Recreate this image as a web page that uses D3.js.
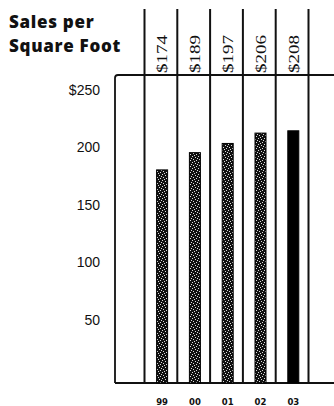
<!DOCTYPE html>
<html>
<head>
<meta charset="utf-8">
<script src="https://cdn.jsdelivr.net/npm/d3@7"></script>
<style>
  html, body { margin: 0; padding: 0; background: #fff; }
  svg { display: block; }
</style>
</head>
<body>
<svg id="chart" width="334" height="406"></svg>
<script>
// Sales per square foot, fiscal years 1999-2003
const years = ["99", "00", "01", "02", "03"];
const sales = [174, 189, 197, 206, 208];
const yTicks = [50, 100, 150, 200, 250];
const valueLabels = ["$174", "$189", "$197", "$206", "$208"];

const svg = d3.select("#chart");
const W = 334;

// plot frame
const frameLeft = 115, frameTop = 75, frameBottom = 383;

const x = d3.scaleBand().domain(years).range([144.5, 308.5]).padding(0);
const y = d3.scaleLinear().domain([0, 250]).range([370, 82.5]);

// speckled fill for the earlier years
const defs = svg.append("defs");
const pat = defs.append("pattern")
  .attr("id", "speckle").attr("patternUnits", "userSpaceOnUse")
  .attr("width", 6).attr("height", 6);
pat.append("rect").attr("width", 6).attr("height", 6).attr("fill", "#111");
const specks = [[0,0],[3,1],[1,3],[4,4],[5,2],[2,5]];
pat.selectAll("rect.s").data(specks).join("rect").attr("class", "s")
  .attr("x", d => d[0]).attr("y", d => d[1])
  .attr("width", 1).attr("height", 1).attr("fill", "#ddd");

// title
const title = svg.append("text")
  .attr("x", 9).attr("y", 28)
  .attr("font-family", "'Open Sans', sans-serif")
  .attr("font-weight", 800).attr("font-size", 17).attr("fill", "#111")
  .attr("letter-spacing", 0.7);
title.append("tspan").attr("x", 9).text("Sales per");
title.append("tspan").attr("x", 9).attr("dy", 23.5).text("Square Foot");

// column separators
const edges = years.map(d => x(d)).concat([x(years[years.length - 1]) + x.bandwidth()]);
svg.append("g").selectAll("line").data(edges).join("line")
  .attr("x1", d => d).attr("x2", d => d)
  .attr("y1", 9).attr("y2", frameBottom)
  .attr("stroke", "#111").attr("stroke-width", 2);

// frame: left edge with rounded corner, top rule and baseline
svg.append("path")
  .attr("d", `M${frameLeft},${frameBottom} L${frameLeft},${frameTop + 3} Q${frameLeft},${frameTop} ${frameLeft + 3},${frameTop} L${W},${frameTop}`)
  .attr("fill", "none").attr("stroke", "#111").attr("stroke-width", 1.8);
svg.append("line")
  .attr("x1", frameLeft).attr("x2", W)
  .attr("y1", frameBottom).attr("y2", frameBottom)
  .attr("stroke", "#111").attr("stroke-width", 2);

// bars rise from the baseline of the frame
const barW = 11, barShift = 1.2;
svg.append("g").selectAll("rect").data(years).join("rect")
  .attr("x", d => x(d) + x.bandwidth() / 2 - barW / 2 + barShift)
  .attr("width", barW)
  .attr("y", (d, i) => y(sales[i]))
  .attr("height", (d, i) => frameBottom - y(sales[i]))
  .attr("fill", (d, i) => i === years.length - 1 ? "#000" : "url(#speckle)")
  .attr("stroke", "#000").attr("stroke-width", 1);

// value labels above the frame, reading upward
svg.append("g").selectAll("text").data(years).join("text")
  .attr("transform", d => `translate(${x(d) + x.bandwidth() / 2 + 6.5},73) rotate(-90)`)
  .attr("font-family", "'Liberation Serif', 'Times New Roman', serif")
  .attr("font-size", 15.5).attr("fill", "#111")
  .attr("textLength", 38).attr("lengthAdjust", "spacingAndGlyphs")
  .text((d, i) => valueLabels[i]);

// y axis labels
const yAxis = d3.axisLeft(y).tickValues(yTicks).tickSize(0).tickPadding(15)
  .tickFormat(d => d === 250 ? `$${d}` : `${d}`);
const gy = svg.append("g").attr("transform", `translate(${frameLeft},0)`).call(yAxis);
gy.select(".domain").remove();
gy.selectAll("text")
  .attr("font-family", "'Liberation Sans', Arial, sans-serif")
  .attr("font-size", 14).attr("fill", "#111").attr("dy", "0.84em");

// x axis labels
const xAxis = d3.axisBottom(x).tickSize(0).tickPadding(0);
const gx = svg.append("g").attr("transform", `translate(${barShift},398.5)`).call(xAxis);
gx.select(".domain").remove();
gx.selectAll("text")
  .attr("font-family", "'DejaVu Sans', sans-serif")
  .attr("font-weight", "bold").attr("font-size", 8.5).attr("fill", "#111");
</script>
</body>
</html>
